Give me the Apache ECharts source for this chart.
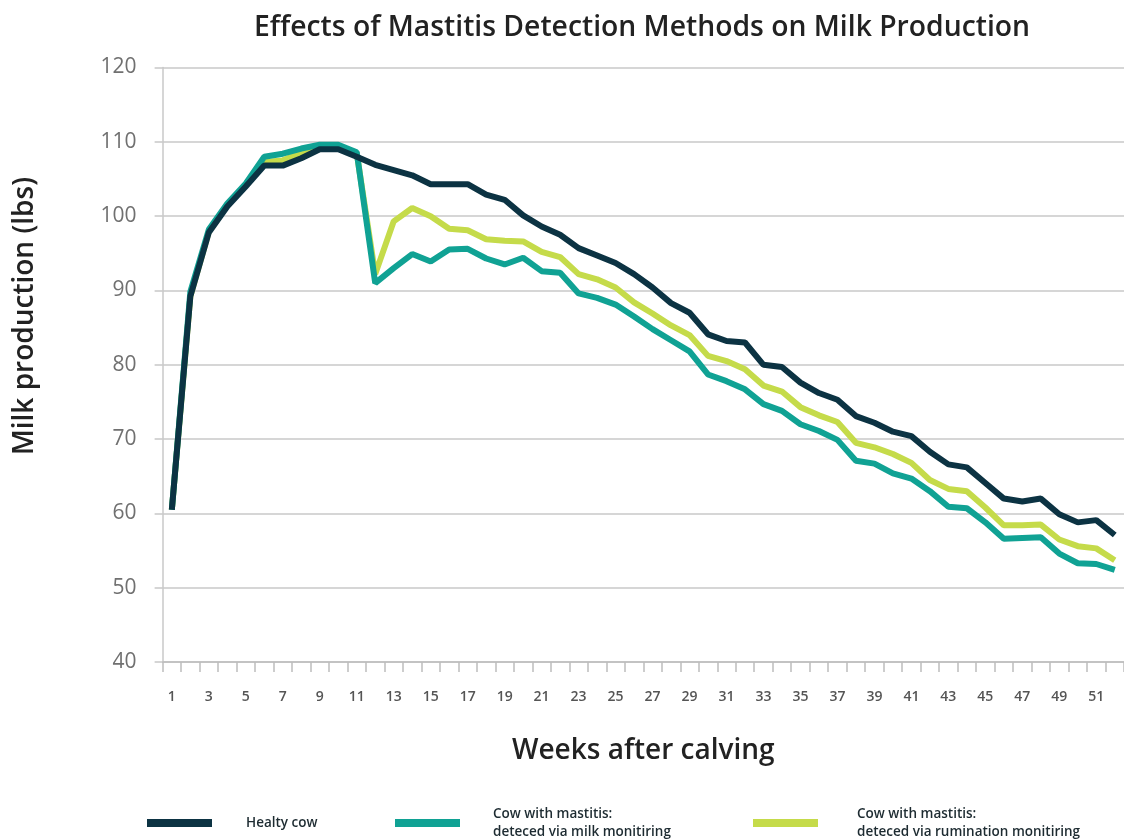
<!DOCTYPE html>
<html>
<head>
<meta charset="utf-8">
<script src="https://cdn.jsdelivr.net/npm/echarts@6/dist/echarts.min.js"></script>
<style>
html,body{margin:0;padding:0;background:#fff;}
#chart{width:1124px;height:840px;}
</style>
</head>
<body>
<div id="chart"></div>
<script>
const weeks = [];
for (let i = 1; i <= 52; i++) weeks.push(String(i));

const healthy = [60.5, 89.2, 97.8, 101.3, 104.0, 106.8, 106.8, 107.8, 109.0, 109.0,
  108.0, 106.9, 106.2, 105.5, 104.3, 104.3, 104.3, 102.9, 102.2, 100.1,
  98.6, 97.5, 95.7, 94.7, 93.7, 92.2, 90.4, 88.3, 87.0, 84.1,
  83.2, 83.0, 80.0, 79.7, 77.6, 76.2, 75.3, 73.1, 72.2, 71.0,
  70.4, 68.3, 66.6, 66.2, 64.1, 62.0, 61.6, 62.0, 59.9, 58.8, 59.1, 57.1];

const milkMonitoring = [60.5, 89.8, 98.2, 101.7, 104.4, 108.0, 108.4, 109.1, 109.6, 109.6,
  108.6, 91.0, 93.0, 94.9, 93.9, 95.5, 95.6, 94.3, 93.5, 94.4,
  92.6, 92.4, 89.6, 89.0, 88.1, 86.5, 84.8, 83.3, 81.8, 78.7,
  77.8, 76.7, 74.7, 73.8, 72.0, 71.1, 69.9, 67.1, 66.7, 65.4,
  64.7, 63.0, 60.9, 60.7, 58.8, 56.6, 56.7, 56.8, 54.6, 53.3, 53.2, 52.4];

const ruminationMonitoring = [60.5, 89.2, 97.9, 101.5, 104.2, 107.3, 107.5, 108.5, 109.4, 109.4,
  108.5, 92.2, 99.3, 101.1, 100.0, 98.3, 98.1, 96.9, 96.7, 96.6,
  95.2, 94.5, 92.2, 91.5, 90.4, 88.4, 86.9, 85.3, 84.0, 81.2,
  80.5, 79.4, 77.2, 76.4, 74.3, 73.2, 72.3, 69.5, 68.9, 68.0,
  66.8, 64.5, 63.3, 63.0, 60.8, 58.4, 58.4, 58.5, 56.5, 55.6, 55.3, 53.7];

const names = ['Healty cow', 'Cow with mastitis:\ndeteced via milk monitiring', 'Cow with mastitis:\ndeteced via rumination monitiring'];
const colors = ['#0c3343', '#10a294', '#c5db4a'];

const chart = echarts.init(document.getElementById('chart'), null, {renderer: 'canvas'});
const FONT = '"Open Sans", "DejaVu Sans", sans-serif';

function legendAt(idx, left, top, gap) {
  return {
    left: left, top: top,
    data: [names[idx]],
    icon: 'rect',
    itemWidth: 65, itemHeight: 8,
    selectedMode: false,
    textStyle: {fontFamily: FONT, fontSize: 13.5, fontWeight: 600, color: '#1d2b31', lineHeight: 18, padding: [0, 0, 0, gap]}
  };
}

chart.setOption({
  backgroundColor: '#ffffff',
  animation: false,
  title: {
    text: 'Effects of Mastitis Detection Methods on Milk Production',
    left: 249, top: 9,
    textStyle: {fontFamily: FONT, fontSize: 28.3, fontWeight: 600, color: '#222'}
  },
  graphic: [{
    type: 'text',
    x: 25, y: 316,
    rotation: Math.PI / 2,
    style: {
      text: 'Milk production (lbs)',
      fontFamily: FONT, fontSize: 28, fontWeight: 600, fill: '#222',
      align: 'center', verticalAlign: 'middle'
    }
  }],
  legend: [
    legendAt(0, 142, 809, 29),
    legendAt(1, 390, 800, 28),
    legendAt(2, 748, 800, 34)
  ],
  grid: {left: 162.6, top: 67.5, width: 972.4, height: 594.6, containLabel: false},
  xAxis: {
    type: 'category',
    data: weeks,
    boundaryGap: true,
    name: 'Weeks after calving',
    nameLocation: 'middle',
    nameGap: 75,
    nameTextStyle: {fontFamily: FONT, fontSize: 28, fontWeight: 600, color: '#222'},
    axisLine: {show: true, lineStyle: {color: '#bdbdbd', width: 1.5}},
    axisTick: {show: true, interval: 0, length: 10, lineStyle: {color: '#bdbdbd', width: 1.5}},
    axisLabel: {interval: 1, margin: 28, fontFamily: FONT, fontSize: 14, fontWeight: 600, color: '#555'},
    splitLine: {show: false}
  },
  yAxis: {
    type: 'value',
    min: 40, max: 120, interval: 10,
    axisLine: {show: true, lineStyle: {color: '#c8c8c8', width: 1.5}},
    axisTick: {show: true, length: 8, lineStyle: {color: '#c8c8c8', width: 1.5}},
    axisLabel: {margin: 26, fontFamily: FONT, fontSize: 21, color: '#707070'},
    splitLine: {show: true, lineStyle: {color: '#c8c8c8', width: 1.5}}
  },
  series: [
    {name: names[2], type: 'line', data: ruminationMonitoring, symbol: 'none', z: 2,
     itemStyle: {color: colors[2]}, lineStyle: {color: colors[2], width: 6}},
    {name: names[1], type: 'line', data: milkMonitoring, symbol: 'none', z: 3,
     itemStyle: {color: colors[1]}, lineStyle: {color: colors[1], width: 6}},
    {name: names[0], type: 'line', data: healthy, symbol: 'none', z: 4,
     itemStyle: {color: colors[0]}, lineStyle: {color: colors[0], width: 6}}
  ]
});
</script>
</body>
</html>
